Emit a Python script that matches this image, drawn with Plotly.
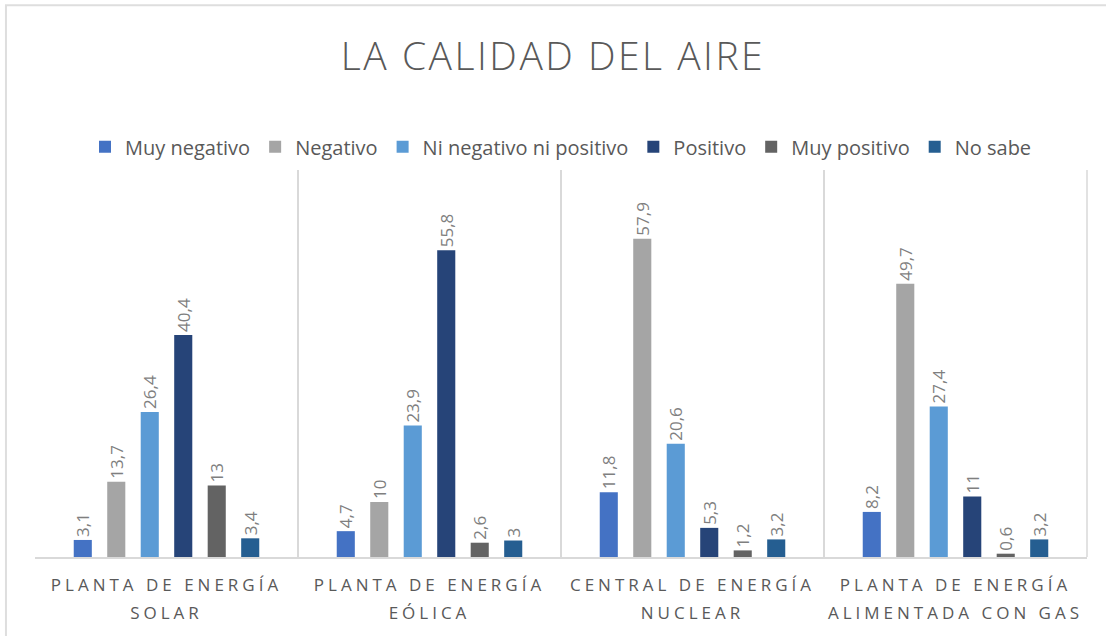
import plotly.graph_objects as go

categorias = [
    "PLANTA DE ENERGÍA<br>SOLAR",
    "PLANTA DE ENERGÍA<br>EÓLICA",
    "CENTRAL DE ENERGÍA<br>NUCLEAR",
    "PLANTA DE ENERGÍA<br>ALIMENTADA CON GAS",
]

muy_negativo = [3.1, 4.7, 11.8, 8.2]
negativo = [13.7, 10, 57.9, 49.7]
ni_neg_ni_pos = [26.4, 23.9, 20.6, 27.4]
positivo = [40.4, 55.8, 5.3, 11]
muy_positivo = [13, 2.6, 1.2, 0.6]
no_sabe = [3.4, 3, 3.2, 3.2]

series = [
    ("Muy negativo", muy_negativo, "#4472C4"),
    ("Negativo", negativo, "#A5A5A5"),
    ("Ni negativo ni positivo", ni_neg_ni_pos, "#5B9BD5"),
    ("Positivo", positivo, "#264478"),
    ("Muy positivo", muy_positivo, "#636363"),
    ("No sabe", no_sabe, "#255E91"),
]

_GRID = "#d9d9d9"
_TEXT = "#595959"
_FONT = "Open Sans, sans-serif"

fig = go.Figure()

for nombre, valores, color in series:
    fig.add_trace(
        go.Bar(
            x=categorias,
            y=valores,
            name=nombre,
            marker=dict(color=color, line=dict(width=0)),
            texttemplate="%{y}",
            textposition="outside",
            textangle=-90,
            constraintext="none",
            textfont=dict(color="#7f7f7f", size=17, family=_FONT),
            cliponaxis=False,
        )
    )

fig.update_layout(
    width=1106,
    height=636,
    paper_bgcolor="white",
    plot_bgcolor="white",
    separators=",.",
    font=dict(family=_FONT, color=_TEXT),
    title=dict(
        text="LA CALIDAD DEL AIRE",
        x=0.5,
        xanchor="center",
        y=0.912,
        yanchor="middle",
        font=dict(size=39, color=_TEXT, family=_FONT, weight=300),
    ),
    legend=dict(
        orientation="h",
        x=0.5,
        xanchor="center",
        y=1.06,
        yanchor="middle",
        font=dict(size=20, color=_TEXT),
        itemwidth=30,
        traceorder="normal",
    ),
    barmode="group",
    bargap=0.236,
    bargroupgap=0.46,
    margin=dict(l=35, r=19, t=170, b=79),
    xaxis=dict(
        type="category",
        tickson="boundaries",
        showgrid=True,
        gridcolor=_GRID,
        gridwidth=1.5,
        showline=True,
        linecolor=_GRID,
        linewidth=2,
        ticks="",
        tickfont=dict(size=17, color=_TEXT),
        ticklabelstandoff=12,
    ),
    yaxis=dict(
        range=[0, 70.4],
        visible=False,
        showgrid=False,
        zeroline=False,
    ),
    shapes=[
        dict(
            type="rect",
            xref="paper",
            yref="paper",
            x0=-0.0276,
            x1=1.05,
            y0=-0.3,
            y1=1.426,
            line=dict(color="#dedede", width=2),
        ),
        dict(
            type="line",
            xref="paper",
            yref="paper",
            x0=1,
            x1=1,
            y0=0,
            y1=1,
            line=dict(color=_GRID, width=1.5),
        ),
    ],
)

post = """
document.body.style.margin = '0';
document.body.style.overflow = 'hidden';
document.querySelectorAll('.xtick text').forEach(function (t) {
    t.style.letterSpacing = '4px';
    var lines = t.querySelectorAll('tspan.line');
    if (lines.length > 1) { lines[1].setAttribute('dy', '1.6em'); }
});
document.querySelectorAll('.gtitle').forEach(function (t) { t.style.letterSpacing = '2.5px'; });
"""

fig.write_html("out.html", post_script=post, config={"displayModeBar": False})
